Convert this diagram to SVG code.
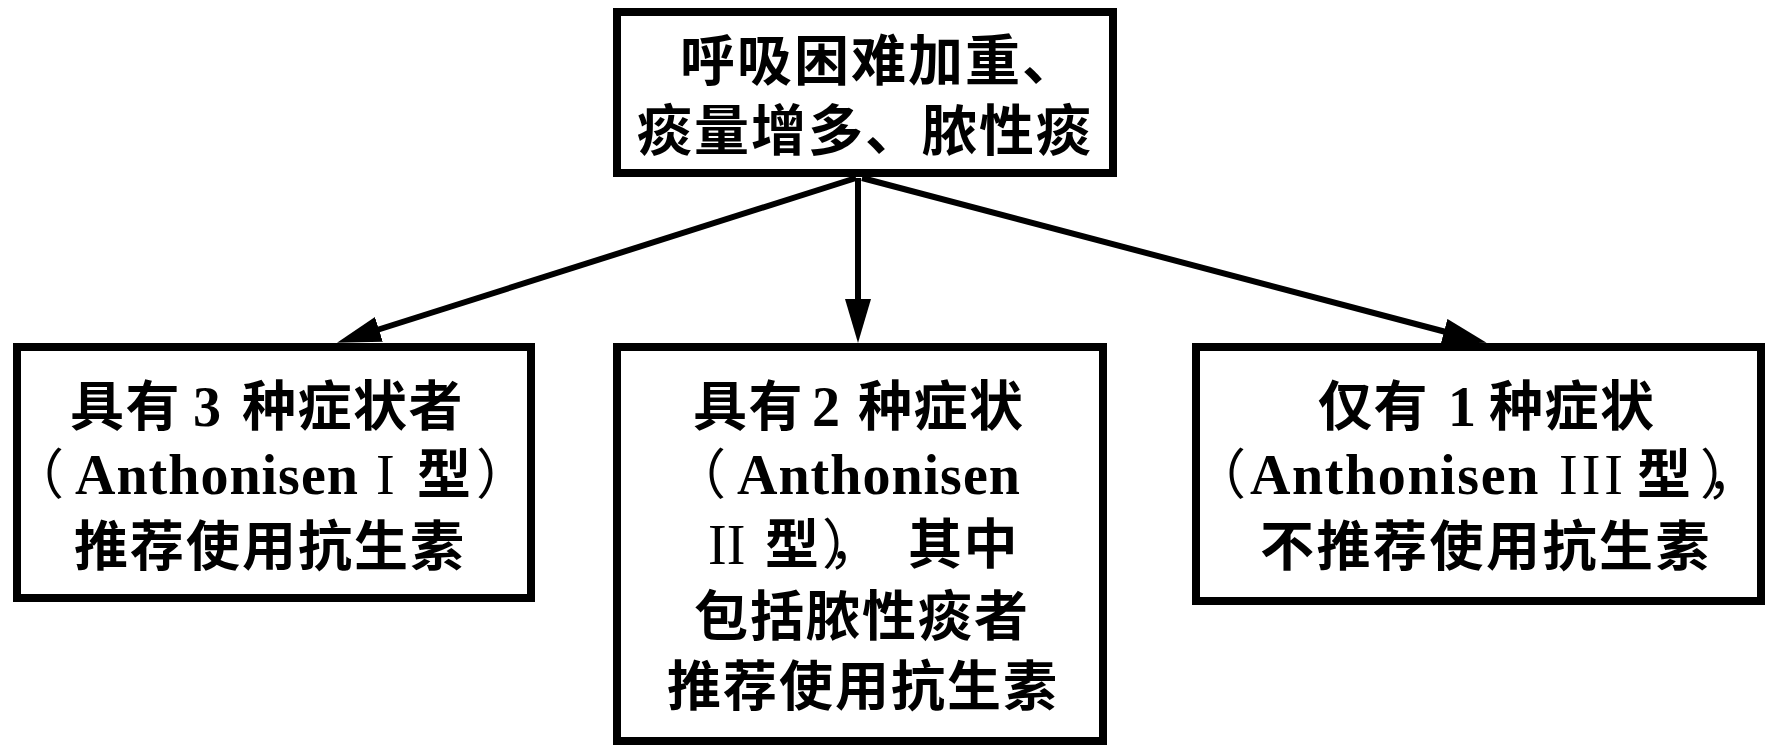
<svg xmlns="http://www.w3.org/2000/svg" width="1767" height="745" viewBox="0 0 1767 745">
<style>
.box{fill:#fff;stroke:#000;stroke-width:8}
.con{fill:none;stroke:#000;stroke-width:6}
.cjk{font-family:"Noto Sans CJK SC",sans-serif;font-weight:700;font-size:54px;letter-spacing:1.5px;fill:#000}
.top{font-size:55px;letter-spacing:2px}
.par{font-weight:400}
.pc{font-weight:400;letter-spacing:-21px}
.lat{font-family:"Liberation Serif",serif;font-weight:700;font-size:56px;letter-spacing:1px;fill:#000}
.rom{font-family:"Liberation Serif",serif;font-weight:400;font-size:56px;letter-spacing:0;fill:#000}
</style>
<defs>
<marker id="ah" markerUnits="userSpaceOnUse" markerWidth="44" markerHeight="26" viewBox="0 -13 44 26" refX="2" refY="0" orient="auto">
<path d="M0,-13 L44,0 L0,13 z" fill="#000"/>
</marker>
</defs>
<rect width="1767" height="745" fill="#fff"/>
<g id="connectors">
<path class="con" d="M856,178 L377,330" marker-end="url(#ah)"/>
<path class="con" d="M858,178 L858,301" marker-end="url(#ah)"/>
<path class="con" d="M862,178 L1446,332" marker-end="url(#ah)"/>
</g>
<g id="node-top">
<rect class="box" x="617" y="12" width="496" height="161"/>
<text class="cjk top" x="680" y="80">呼吸困难加重、</text>
<text class="cjk top" x="637" y="150">痰量增多、脓性痰</text>
</g>
<g id="node-left">
<rect class="box" x="17" y="347" width="514" height="251"/>
<text class="cjk" y="426"><tspan x="70">具有</tspan><tspan class="lat" x="193">3</tspan><tspan x="242">种症状者</tspan></text>
<text class="cjk" y="494"><tspan class="par" x="10">（</tspan><tspan class="lat" x="75">Anthonisen</tspan><tspan class="rom" x="376">I</tspan><tspan x="417">型</tspan><tspan class="par" x="476">）</tspan></text>
<text class="cjk" x="74" y="566" style="letter-spacing:2px">推荐使用抗生素</text>
</g>
<g id="node-middle">
<rect class="box" x="617" y="347" width="486" height="394"/>
<text class="cjk" y="426"><tspan x="693">具有</tspan><tspan class="lat" x="812">2</tspan><tspan x="858">种症状</tspan></text>
<text class="cjk" y="494"><tspan class="par" x="672">（</tspan><tspan class="lat" x="737">Anthonisen</tspan></text>
<text class="cjk" y="564"><tspan class="rom" x="708">II</tspan><tspan x="765">型</tspan><tspan class="pc" x="822">），</tspan><tspan x="908">其中</tspan></text>
<text class="cjk" x="694" y="636" style="letter-spacing:2px">包括脓性痰者</text>
<text class="cjk" x="667" y="706" style="letter-spacing:2px">推荐使用抗生素</text>
</g>
<g id="node-right">
<rect class="box" x="1196" y="347" width="565" height="254"/>
<text class="cjk" y="426"><tspan x="1318">仅有</tspan><tspan class="lat" x="1448">1</tspan><tspan x="1489" style="letter-spacing:1.5px">种症状</tspan></text>
<text class="cjk" y="494"><tspan class="par" x="1192">（</tspan><tspan class="lat" x="1250" style="letter-spacing:1.6px">Anthonisen</tspan><tspan class="rom" x="1559" style="letter-spacing:4px">III</tspan><tspan x="1637">型</tspan><tspan class="pc" x="1700">），</tspan></text>
<text class="cjk" x="1260" y="566" style="letter-spacing:2.5px">不推荐使用抗生素</text>
</g>
</svg>
